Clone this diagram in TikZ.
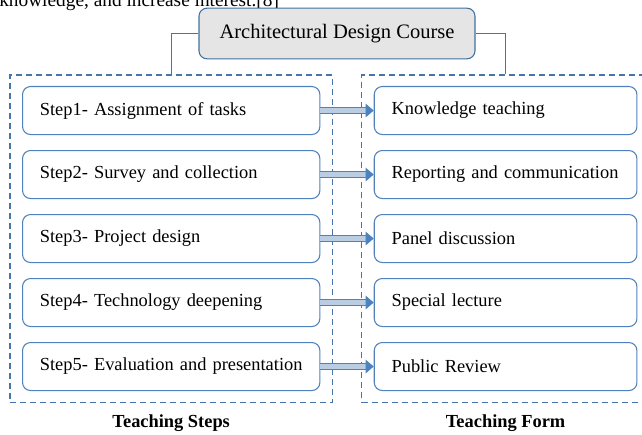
\documentclass[tikz,border=0pt]{standalone}
\usepackage{fontspec}
\setmainfont{Liberation Serif}
\usetikzlibrary{positioning,arrows.meta,fit}
\definecolor{boxblue}{RGB}{79,129,189}
\definecolor{linegray}{RGB}{95,110,130}
\tikzstyle{titlebox}=[rectangle, rounded corners=6pt, draw=boxblue!85!black, fill=gray!20, thick,
minimum width=207pt, minimum height=38pt, inner sep=2pt, text centered, font=\fontsize{15.4}{18}\selectfont]
\tikzstyle{stepbox}=[rectangle, rounded corners=6pt, draw=boxblue, thick, minimum height=36pt,
text width=197pt, inner xsep=13pt, align=left, font=\fontsize{13.8}{16}\selectfont]
\tikzstyle{formbox}=[stepbox, text width=171pt]
\tikzstyle{groupbox}=[rectangle, draw=boxblue!90!black, line width=1.1pt, dash pattern=on 4.5pt off 3pt, inner xsep=9pt, inner ysep=8.4pt]
\tikzstyle{grouplabel}=[font=\fontsize{13.8}{16}\selectfont\bfseries]
\tikzstyle{line}=[-, thick, linegray]
\tikzstyle{arrowline}=[double=boxblue!40, draw=boxblue, double distance=3.2pt, line width=0.9pt,
-{Triangle[length=6pt,width=10pt]}]

\begin{document}
\begin{tikzpicture}[x=0.75pt,y=-0.75pt]
    \useasboundingbox (0,0) rectangle (642,435);
    \clip (0,0) rectangle (642,435);

    % running text above the figure
    \node (para) [anchor=base west, inner sep=0pt, font=\fontsize{14.5}{17}\selectfont] at (-1,6.5)
        {knowledge, and increase interest.[8]};

    \node (course) [titlebox] at (337,33.5) {Architectural Design Course};

    % teaching steps
    \node (step1) [stepbox, anchor=north west] at (22,86) {Step1- Assignment of tasks};
    \node (step2) [stepbox, below=11.2pt of step1] {Step2- Survey and collection};
    \node (step3) [stepbox, below=11.2pt of step2] {Step3- Project design};
    \node (step4) [stepbox, below=11.2pt of step3] {Step4- Technology deepening};
    \node (step5) [stepbox, below=11.2pt of step4] {Step5- Evaluation and presentation};

    % teaching forms
    \node (form1) [formbox, right=40pt of step1] {Knowledge teaching};
    \node (form2) [formbox, right=40pt of step2] {Reporting and communication};
    \node (form3) [formbox, right=40pt of step3] {Panel discussion};
    \node (form4) [formbox, right=40pt of step4] {Special lecture};
    \node (form5) [formbox, right=40pt of step5] {Public Review};

    % dashed groups
    \node (steps) [groupbox, fit=(step1)(step5)] {};
    \node (forms) [groupbox, fit=(form1)(form5)] {};
    \node (stepslbl) [grouplabel, below=5pt of steps] {Teaching Steps};
    \node (formslbl) [grouplabel, below=5pt of forms] {Teaching Form};

    \draw[line] (course.west) -| (steps.north);
    \draw[line] (course.east) -| (forms.north);

    \draw[arrowline] (step1.east) -- (form1.west);
    \draw[arrowline] (step2.east) -- (form2.west);
    \draw[arrowline] (step3.east) -- (form3.west);
    \draw[arrowline] (step4.east) -- (form4.west);
    \draw[arrowline] (step5.east) -- (form5.west);

\end{tikzpicture}
\end{document}
